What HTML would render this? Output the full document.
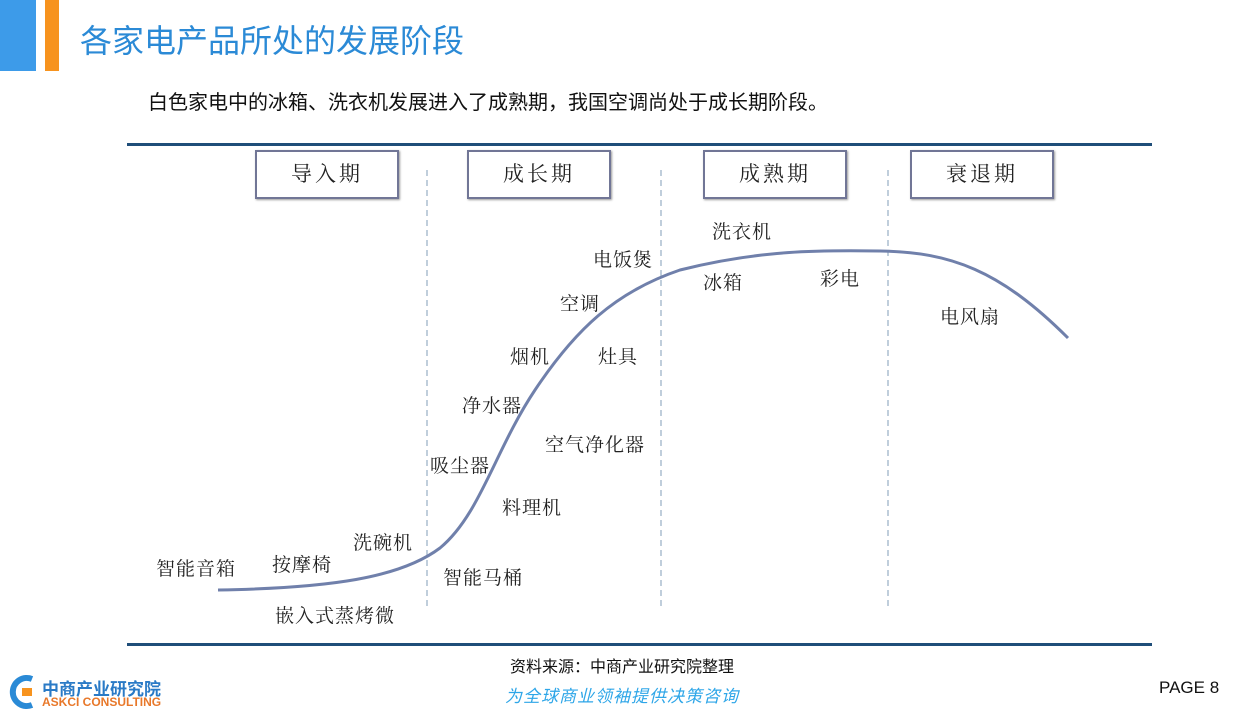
<!DOCTYPE html>
<html><head><meta charset="utf-8"><style>
body{margin:0;width:1250px;height:718px;background:#fff;position:relative;overflow:hidden;font-family:"Liberation Sans","Noto Sans CJK SC",sans-serif}
.a{position:absolute;white-space:nowrap}
.box{position:absolute;top:150px;width:140px;height:45px;border:2px solid #717696;box-shadow:1px 1px 2px #999;font-family:"Liberation Serif","Noto Serif CJK SC",serif;font-size:21px;text-align:center;line-height:45px;letter-spacing:3px;color:#222}
.l{position:absolute;white-space:nowrap;font-family:"Liberation Serif","Noto Serif CJK SC",serif;font-size:19px;color:#222;letter-spacing:1px}
</style></head><body>
<div class="a" style="left:0;top:0;width:36px;height:71px;background:#3d9be9"></div>
<div class="a" style="left:45px;top:0;width:14px;height:71px;background:#f7931e"></div>
<div class="a" style="left:80px;top:16px;font-size:32px;color:#2b8ad6">各家电产品所处的发展阶段</div>
<div class="a" style="left:148px;top:86px;font-size:20px;color:#111">白色家电中的冰箱、洗衣机发展进入了成熟期，我国空调尚处于成长期阶段。</div>
<div class="a" style="left:127px;top:143px;width:1025px;height:3px;background:#1f4e79"></div>
<div class="a" style="left:127px;top:643px;width:1025px;height:3px;background:#1f4e79"></div>
<div class="box" style="left:255px">导入期</div>
<div class="box" style="left:467px">成长期</div>
<div class="box" style="left:703px">成熟期</div>
<div class="box" style="left:910px">衰退期</div>
<svg class="a" style="left:0;top:0" width="1250" height="718">
<g stroke="#9fb3c8" stroke-width="1.3" stroke-dasharray="6,4"><line x1="427" y1="170" x2="427" y2="608"/><line x1="661" y1="170" x2="661" y2="608"/><line x1="888" y1="170" x2="888" y2="608"/></g>
<path d="M218 590 C330 588 400 578 440 548 C480 515 495 450 535 390 C575 330 615 292 680 270 C760 250 820 250 880 251 C950 252 1000 270 1068 338" fill="none" stroke="#7080ab" stroke-width="3"/>
</svg>
<div class="l" style="left:712px;top:217px">洗衣机</div>
<div class="l" style="left:593px;top:245px">电饭煲</div>
<div class="l" style="left:703px;top:268px">冰箱</div>
<div class="l" style="left:820px;top:264px">彩电</div>
<div class="l" style="left:560px;top:289px">空调</div>
<div class="l" style="left:940px;top:302px">电风扇</div>
<div class="l" style="left:510px;top:342px">烟机</div>
<div class="l" style="left:598px;top:342px">灶具</div>
<div class="l" style="left:462px;top:391px">净水器</div>
<div class="l" style="left:545px;top:430px">空气净化器</div>
<div class="l" style="left:430px;top:451px">吸尘器</div>
<div class="l" style="left:502px;top:493px">料理机</div>
<div class="l" style="left:353px;top:528px">洗碗机</div>
<div class="l" style="left:272px;top:550px">按摩椅</div>
<div class="l" style="left:156px;top:554px">智能音箱</div>
<div class="l" style="left:443px;top:563px">智能马桶</div>
<div class="l" style="left:275px;top:601px">嵌入式蒸烤微</div>
<div class="a" style="left:510px;top:653px;font-size:16px;color:#111">资料来源：中商产业研究院整理</div>
<div class="a" style="left:505px;top:682px;font-size:17px;color:#2ea6e8;font-style:italic;letter-spacing:1px">为全球商业领袖提供决策咨询</div>
<div class="a" style="left:1159px;top:678px;font-size:17px;color:#111">PAGE 8</div>
<svg class="a" style="left:6px;top:674px" width="34" height="36"><path d="M26 5 A14 14 0 1 0 26 31" fill="none" stroke="#2a8ad6" stroke-width="6"/><rect x="16" y="14" width="10" height="8" fill="#f7931e"/></svg>
<div class="a" style="left:42px;top:675px;font-size:17px;font-weight:bold;color:#2a7ac6">中商产业研究院</div>
<div class="a" style="left:42px;top:695px;font-size:12px;color:#e8782a;font-weight:bold">ASKCI CONSULTING</div>
</body></html>
